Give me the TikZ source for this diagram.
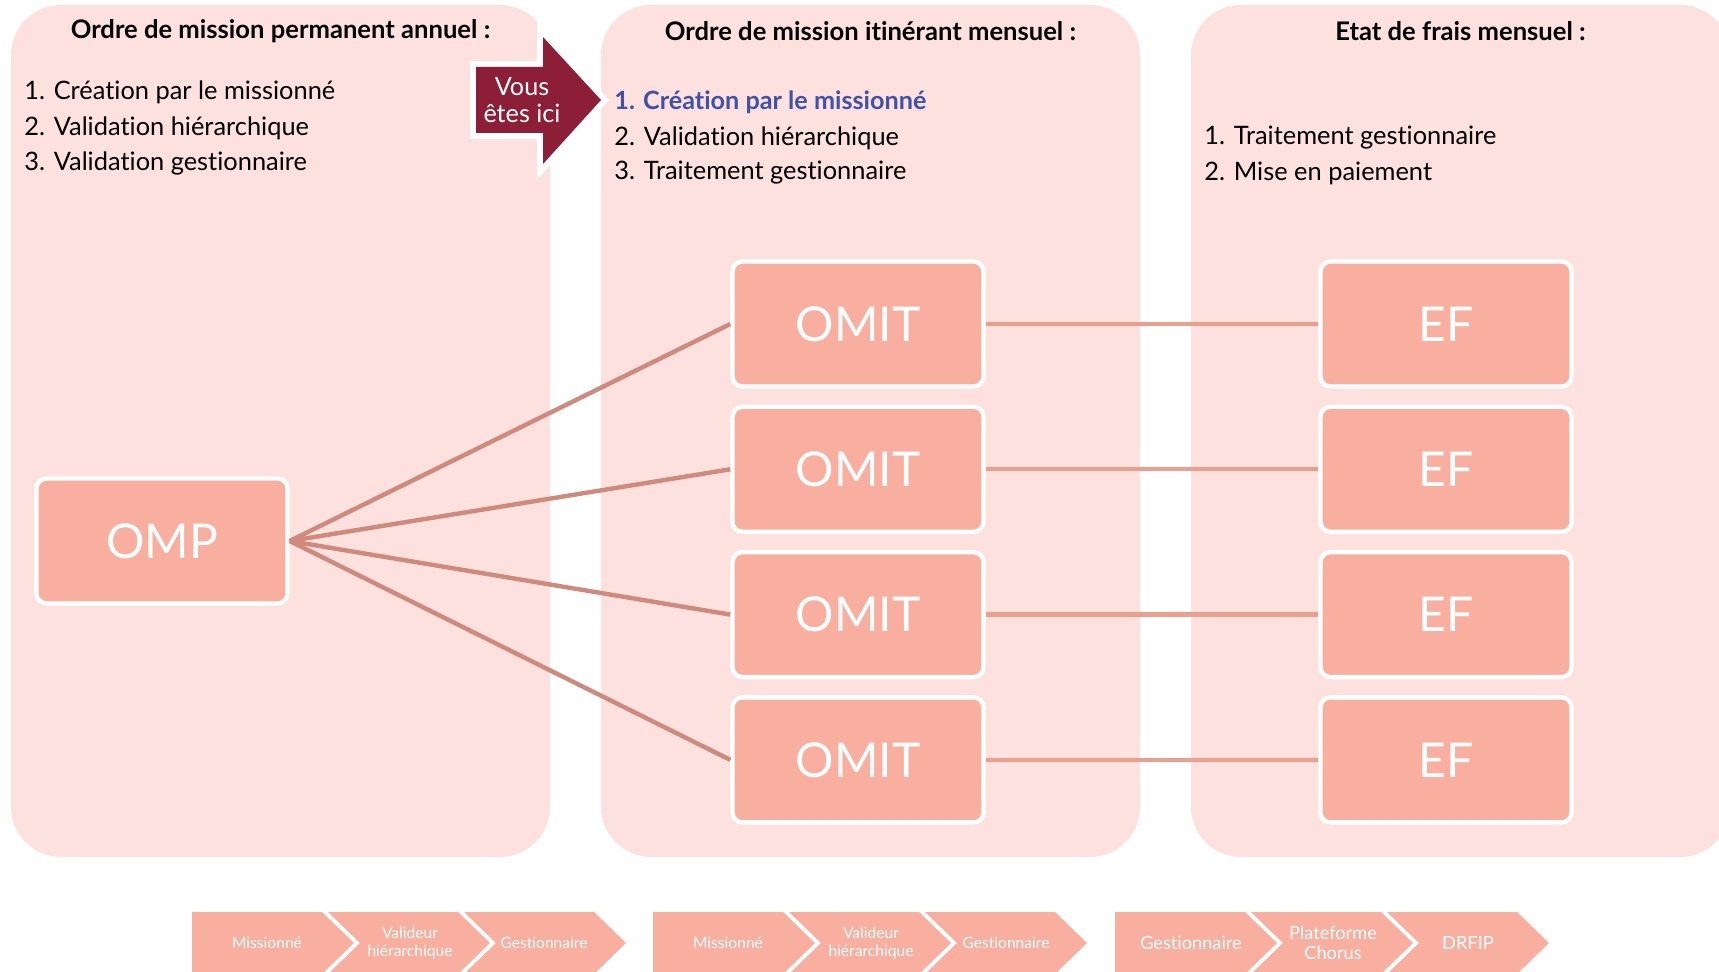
\documentclass[tikz,border=0pt]{standalone}
\usepackage{fontspec}
\setmainfont{Lato}[Ligatures=NoCommon]

\definecolor{panelpink}{HTML}{FDE1DE}
\definecolor{boxsalmon}{HTML}{F8AFA0}
\definecolor{fanline}{HTML}{CF8A7D}
\definecolor{efline}{HTML}{EA9F8F}
\definecolor{herered}{HTML}{8C1F37}
\definecolor{stepblue}{HTML}{3F51A8}

\tikzset{
  panel/.style={fill=panelpink, rounded corners=25pt},
  bloc/.style={draw=white, line width=2.2pt, fill=boxsalmon, rounded corners=5pt,
    minimum width=125.5pt, minimum height=62.5pt, text=white,
    font=\fontsize{24}{28}\selectfont},
  titre/.style={font=\bfseries\fontsize{12.8}{15}\selectfont},
  etape/.style={anchor=west, inner sep=0pt, font=\fontsize{12.7}{15}\selectfont},
  etapeici/.style={etape, text=stepblue, font=\bfseries\fontsize{12.6}{15}\selectfont},
  chevron/.style={fill=boxsalmon},
  chevtxt/.style={text=white, align=center, font=\fontsize{7.8}{8.6}\selectfont},
}

\begin{document}
\begin{tikzpicture}[x=0.5pt, y=-0.5pt]
  \useasboundingbox (0,0) rectangle (1719,972);
  % panneaux
  \fill[panel] (11,5) rectangle (550,857);
  \fill[panel] (601,5) rectangle (1140,857);
  \fill[panel] (1191,5) rectangle (1730,857);
  %
  \node[titre] (t1) at (280.5,31) {Ordre de mission permanent annuel :};
  \node[titre] (t2) at (870.5,31) {Ordre de mission itinérant mensuel :};
  \node[titre] (t3) at (1460.5,31) {Etat de frais mensuel :};
  %
  \node[etape] (p1a) at (24,92) {1. Création par le missionné};
  \node[etape] (p1b) at (24,128) {2. Validation hiérarchique};
  \node[etape] (p1c) at (24,163) {3. Validation gestionnaire};
  \node[etapeici] (p2a) at (614,102) {1. Création par le missionné};
  \node[etape] (p2b) at (614,138) {2. Validation hiérarchique};
  \node[etape] (p2c) at (614,173) {3. Traitement gestionnaire};
  \node[etape] (p3a) at (1204,138) {1. Traitement gestionnaire};
  \node[etape] (p3b) at (1204,173) {2. Mise en paiement};
  % vous etes ici
  \fill[herered, preaction={draw=white, line width=6pt}]
    (476,67) -- (543,67) -- (543,37) -- (601,100) -- (543,164) -- (543,133) -- (476,133) -- cycle;
  \node[text=white, align=center, font=\fontsize{12.6}{13.7}\selectfont] (ici) at (522,100) {Vous\\êtes ici};
  % blocs
  \node[bloc] (omp) at (162,541) {OMP};
  \foreach \i in {1,...,4}{
      \pgfmathsetmacro\ry{324+145.3*(\i-1)}
      \node[bloc] (omit\i) at (858,\ry) {OMIT};
      \node[bloc] (ef\i) at (1446,\ry) {EF};
    }
  \foreach \i in {1,...,4}{
      \draw[fanline, line width=2.2pt] (omp.east) -- (omit\i.west);
      \draw[efline, line width=2.2pt] (omit\i.east) -- (ef\i.west);
    }
  % chevrons
  \foreach \gx in {192,653,1115}
  \foreach \i in {0,1,2}{
      \pgfmathsetmacro\s{\gx+136*\i}
      \pgfmathsetmacro\n{(\i>0)*32}
      \fill[chevron] (\s,912) -- ++(130,0) -- ++(32,31) -- ++(-32,31) -- ++(-130,0) -- ++(\n,-31) -- cycle;
    }
  \node[chevtxt] (c1a) at (267,943) {Missionné};
  \node[chevtxt] (c1b) at (410,943) {Valideur\\hiérarchique};
  \node[chevtxt] (c1c) at (544,943) {Gestionnaire};
  \node[chevtxt] (c2a) at (728,943) {Missionné};
  \node[chevtxt] (c2b) at (871,943) {Valideur\\hiérarchique};
  \node[chevtxt] (c2c) at (1006,943) {Gestionnaire};
  \node[chevtxt, font=\fontsize{9.1}{10}\selectfont] (c3a) at (1191,943) {Gestionnaire};
  \node[chevtxt, font=\fontsize{9.1}{10}\selectfont] (c3b) at (1333,943) {Plateforme\\Chorus};
  \node[chevtxt, font=\fontsize{9.1}{10}\selectfont] (c3c) at (1468,943) {DRFIP};
\end{tikzpicture}
\end{document}
